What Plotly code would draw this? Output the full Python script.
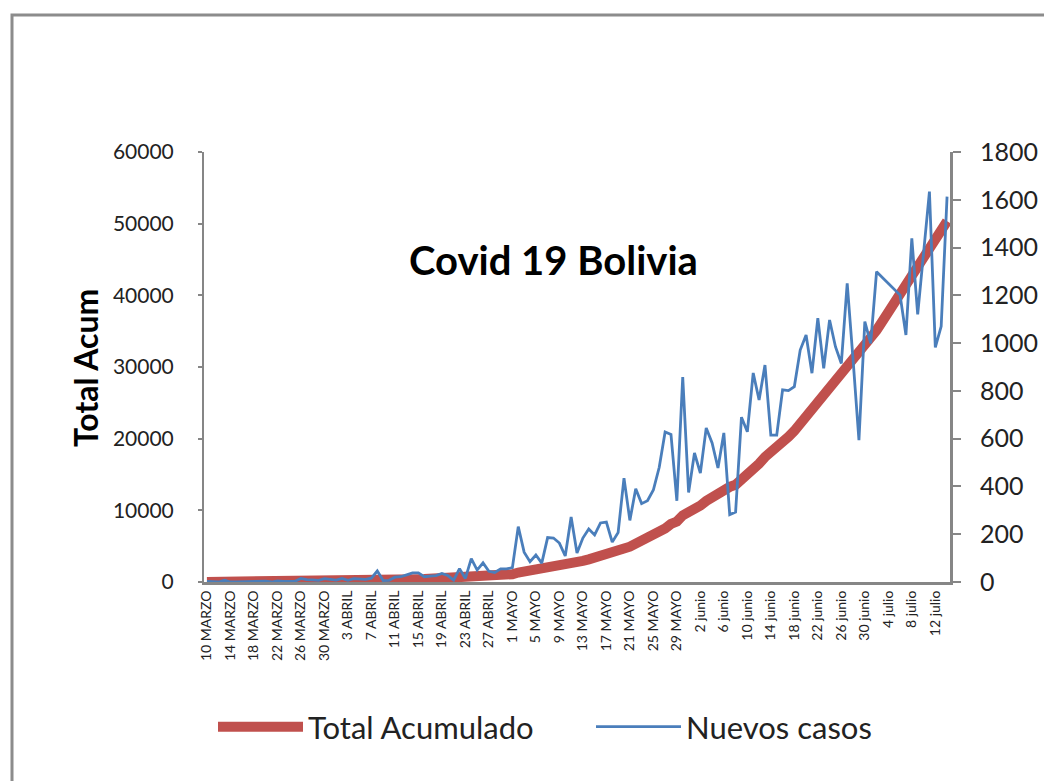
import plotly.graph_objects as go

# ---- data ----
month_names = ["MARZO", "ABRIL", "MAYO", "junio", "julio"]
month_days = [(10, 31), (1, 30), (1, 31), (1, 30), (1, 14)]
fechas = []
for name, (d0, d1) in zip(month_names, month_days):
    for d in range(d0, d1 + 1):
        fechas.append(f"{d} {name}")

nuevos_casos = [
    2, 1, 0, 7, 0, 0, 1, 0, 1, 3, 4, 0, 5, 3, 2, 3, 15, 10, 9, 7, 14, 10,
    8, 15, 7, 14, 14, 11, 16, 46, 6, 7, 20, 22, 30, 38, 38, 22, 25, 27, 36, 27,
    8, 56, 15, 98, 50, 80, 45, 40, 55, 55, 60,
    232, 125, 85, 113, 79, 186, 184, 163, 109, 272, 121, 184, 222, 197, 247, 251,
    167, 207, 435, 258, 390, 328, 340, 385, 480, 628, 618, 340, 858, 375,
    540, 456, 645, 582, 477, 624, 282, 293, 690, 629, 875, 762, 908, 615, 615,
    804, 801, 818, 971, 1034, 874, 1104, 894, 1097, 985, 915, 1250, 930, 594, 1090,
    999, 1299, 1275, 1250, 1225, 1201, 1034, 1439, 1120, 1380, 1634, 982, 1070, 1613,
]

total_acumulado = [
    2, 3, 3, 10, 10, 10, 11, 11, 12, 15, 19, 19, 24, 27, 29, 32, 47, 57, 66, 73, 87, 97,
    105, 120, 127, 141, 155, 166, 182, 228, 234, 241, 261, 283, 313, 351, 389, 411, 436,
    463, 499, 526, 534, 590, 605, 703, 753, 833, 878, 918, 973, 1028, 1088,
    1320, 1445, 1530, 1643, 1722, 1908, 2092, 2255, 2364, 2636, 2757, 2941, 3163, 3360,
    3607, 3858, 4025, 4232, 4667, 4925, 5315, 5643, 5983, 6368, 6848, 7476, 8094, 8434,
    9292, 9667,
    10207, 10663, 11308, 11890, 12367, 12991, 13273, 13566, 14256, 14885, 15760, 16522,
    17430, 18045, 18660, 19464, 20265, 21083, 22054, 23088, 23962, 25066, 25960, 27057,
    28042, 28957, 30207, 31137, 31731, 32821,
    33820, 35119, 36394, 37644, 38869, 40070, 41104, 42543, 43663, 45043, 46677, 47659,
    48729, 50342,
]

tick_labels = fechas[::4]
left_ticks = [0, 10000, 20000, 30000, 40000, 50000, 60000]
right_ticks = [0, 200, 400, 600, 800, 1000, 1200, 1400, 1600, 1800]

# ---- figure ----
W, H = 1052, 781
OFF = 8  # page body margin
L, R, T, B = 204 - OFF, 950 - OFF, 152 - OFF, 582 - OFF
FONT = "Lato"


def px(x):
    return (x - OFF - L) / (R - L)


def py(y):
    return (B - (y - OFF)) / (B - T)


fig = go.Figure()
fig.add_trace(go.Scatter(
    x=fechas, y=total_acumulado, name="Total Acumulado", mode="lines",
    line=dict(color="#C0504D", width=10), yaxis="y", legend="legend",
))
fig.add_trace(go.Scatter(
    x=fechas, y=nuevos_casos, name="Nuevos casos", mode="lines",
    line=dict(color="#4A7EBB", width=2.8), yaxis="y2", legend="legend2",
))

axis_gray = "#868686"
legend_common = dict(
    orientation="h", xanchor="left", yanchor="middle",
    font=dict(size=31, family=FONT, color="#222222"),
    itemwidth=85, tracegroupgap=0, bgcolor="rgba(0,0,0,0)",
)
fig.update_layout(
    width=W, height=H,
    margin=dict(l=L, r=W - R, t=T, b=H - B, pad=0),
    paper_bgcolor="white", plot_bgcolor="white",
    font=dict(family=FONT, color="#222222"),
    showlegend=True,
    legend=dict(x=px(213), y=py(727), **legend_common),
    legend2=dict(x=px(591), y=py(727), **legend_common),
    xaxis=dict(
        type="category", range=[-0.5, len(fechas) - 0.5],
        tickmode="array", tickvals=tick_labels, ticktext=tick_labels,
        tickangle=-90, tickfont=dict(size=14, family=FONT, color="#222222"),
        showline=True, linecolor=axis_gray, linewidth=3,
        ticks="", showgrid=False, zeroline=False,
    ),
    yaxis=dict(
        range=[0, 60000], tickmode="array", tickvals=left_ticks,
        ticktext=[str(v) for v in left_ticks],
        tickfont=dict(size=21, family=FONT, color="#222222"),
        showline=True, linecolor=axis_gray, linewidth=2,
        ticks="outside", ticklen=4, tickcolor=axis_gray, tickwidth=2,
        ticklabelstandoff=20,
        showgrid=False, zeroline=False,
    ),
    yaxis2=dict(
        range=[0, 1800], overlaying="y", side="right", tickmode="array",
        tickvals=right_ticks, ticktext=[str(v) for v in right_ticks],
        tickfont=dict(size=25, family=FONT, color="#222222"),
        showline=True, linecolor=axis_gray, linewidth=3,
        ticks="outside", ticklen=8, tickcolor=axis_gray, tickwidth=2,
        ticklabelstandoff=14,
        showgrid=False, zeroline=False,
    ),
    annotations=[
        dict(text="<b>Covid 19 Bolivia</b>", xref="paper", yref="paper",
             x=px(553), y=py(260),
             xanchor="center", yanchor="middle", showarrow=False,
             font=dict(size=40, family=FONT, color="black")),
        dict(text="<b>Total Acum</b>", xref="paper", yref="paper",
             x=px(85), y=py(368), textangle=-90,
             xanchor="center", yanchor="middle", showarrow=False,
             font=dict(size=32, family=FONT, color="black")),
    ],
    shapes=[
        dict(type="rect", xref="paper", yref="paper",
             x0=px(12), x1=1.4,
             y0=-0.8, y1=py(15),
             line=dict(color="#8C8C8C", width=3), fillcolor="rgba(0,0,0,0)",
             layer="below"),
    ],
)

fig.write_html("out.html")
